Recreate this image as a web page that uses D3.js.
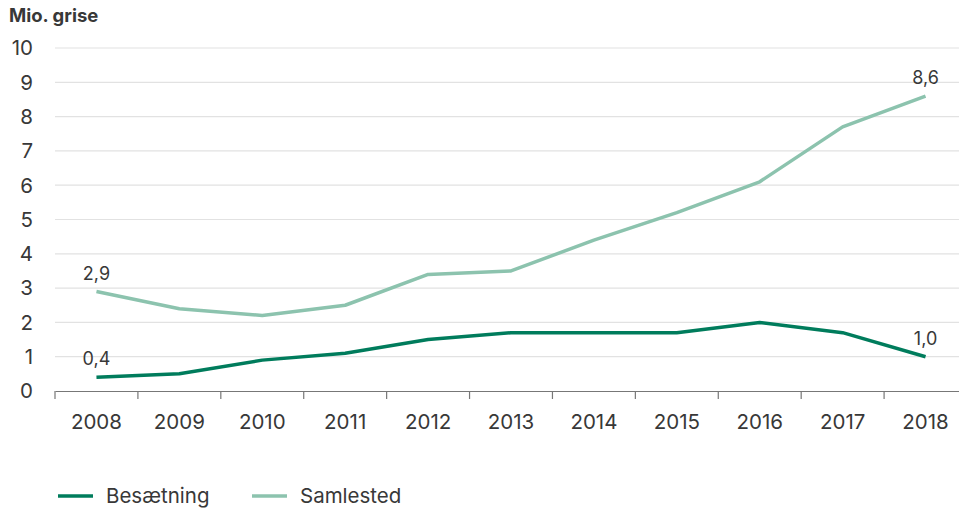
<!DOCTYPE html>
<html>
<head>
<meta charset="utf-8">
<script src="https://cdn.jsdelivr.net/npm/d3@7"></script>
<style>
  body { margin: 0; background: #fff; }
  svg text { font-family: Inter, "Noto Sans", sans-serif; fill: #383838; }
</style>
</head>
<body>
<div id="chart"></div>
<script>
// data
var years = ["2008", "2009", "2010", "2011", "2012", "2013", "2014", "2015", "2016", "2017", "2018"];
var besaetning = [0.4, 0.5, 0.9, 1.1, 1.5, 1.7, 1.7, 1.7, 2.0, 1.7, 1.0];
var samlested = [2.9, 2.4, 2.2, 2.5, 3.4, 3.5, 4.4, 5.2, 6.1, 7.7, 8.6];
var yTicks = [0, 1, 2, 3, 4, 5, 6, 7, 8, 9, 10];

var svgWidth = 959, svgHeight = 510;
var svg = d3.select("#chart").append("svg")
    .attr("width", svgWidth)
    .attr("height", svgHeight);

var x = d3.scaleBand().domain(years).range([55, 967]);
var y = d3.scaleLinear().domain([0, 10]).range([391, 48]);

// gridlines
svg.append("g")
  .selectAll("line")
  .data(yTicks.filter(d => d > 0))
  .enter().append("line")
    .attr("x1", 55).attr("x2", svgWidth)
    .attr("y1", d => y(d)).attr("y2", d => y(d))
    .attr("stroke", "#e2e2e2")
    .attr("stroke-width", 1.2);

// y labels
svg.append("g")
  .selectAll("text")
  .data(yTicks)
  .enter().append("text")
    .attr("x", 33)
    .attr("y", d => y(d))
    .attr("dy", "0.36em")
    .attr("text-anchor", "end")
    .attr("font-size", "20.5px")
    .text(d => d);

// x axis
var xAxis = d3.axisBottom(x).tickSize(0).tickSizeOuter(0);
var gx = svg.append("g")
  .attr("transform", "translate(0," + y(0) + ")")
  .call(xAxis);
gx.select(".domain").attr("stroke", "#777").attr("stroke-width", 1.2);
gx.selectAll("text")
  .attr("font-size", "20.5px")
  .attr("dy", 0)
  .attr("y", 38)
  .style("font-family", "Inter, 'Noto Sans', sans-serif")
  .attr("fill", "#383838");

// band boundary ticks
svg.append("g")
  .selectAll("line")
  .data(years)
  .enter().append("line")
    .attr("x1", d => x(d)).attr("x2", d => x(d))
    .attr("y1", y(0)).attr("y2", y(0) + 8)
    .attr("stroke", "#777")
    .attr("stroke-width", 1.2);

var cx = d => x(d) + x.bandwidth() / 2;

var line = d3.line()
    .x((d, i) => cx(years[i]))
    .y(d => y(d));

svg.append("path")
  .datum(samlested)
  .attr("fill", "none")
  .attr("stroke", "#8cc3ae")
  .attr("stroke-width", 3.5)
  .attr("stroke-linejoin", "round")
  .attr("d", line);

svg.append("path")
  .datum(besaetning)
  .attr("fill", "none")
  .attr("stroke", "#007c5c")
  .attr("stroke-width", 3.5)
  .attr("stroke-linejoin", "round")
  .attr("d", line);

// value labels at first and last point
var fmt = d => d.toFixed(1).replace(".", ",");
var last = years.length - 1;
var labels = [
  {i: 0, v: samlested[0]},
  {i: 0, v: besaetning[0]},
  {i: last, v: samlested[last]},
  {i: last, v: besaetning[last]}
];
svg.append("g")
  .selectAll("text")
  .data(labels)
  .enter().append("text")
    .attr("x", d => cx(years[d.i]))
    .attr("y", d => y(d.v) - 12)
    .attr("text-anchor", "middle")
    .attr("font-size", "18px")
    .text(d => fmt(d.v));

// title
svg.append("text")
  .attr("x", 9)
  .attr("y", 22)
  .attr("font-size", "18.5px")
  .attr("font-weight", "bold")
  .attr("fill", "#222")
  .text("Mio. grise");

// legend
var legend = [
  {name: "Besætning", color: "#007c5c", x: 58},
  {name: "Samlested", color: "#8cc3ae", x: 252}
];
var lg = svg.append("g").selectAll("g")
  .data(legend)
  .enter().append("g")
    .attr("transform", d => "translate(" + d.x + ",496)");
lg.append("line")
  .attr("x1", 0).attr("x2", 35)
  .attr("stroke", d => d.color)
  .attr("stroke-width", 3.5);
lg.append("text")
  .attr("x", 48)
  .attr("dy", "0.35em")
  .attr("font-size", "20.5px")
  .text(d => d.name);
</script>
</body>
</html>
